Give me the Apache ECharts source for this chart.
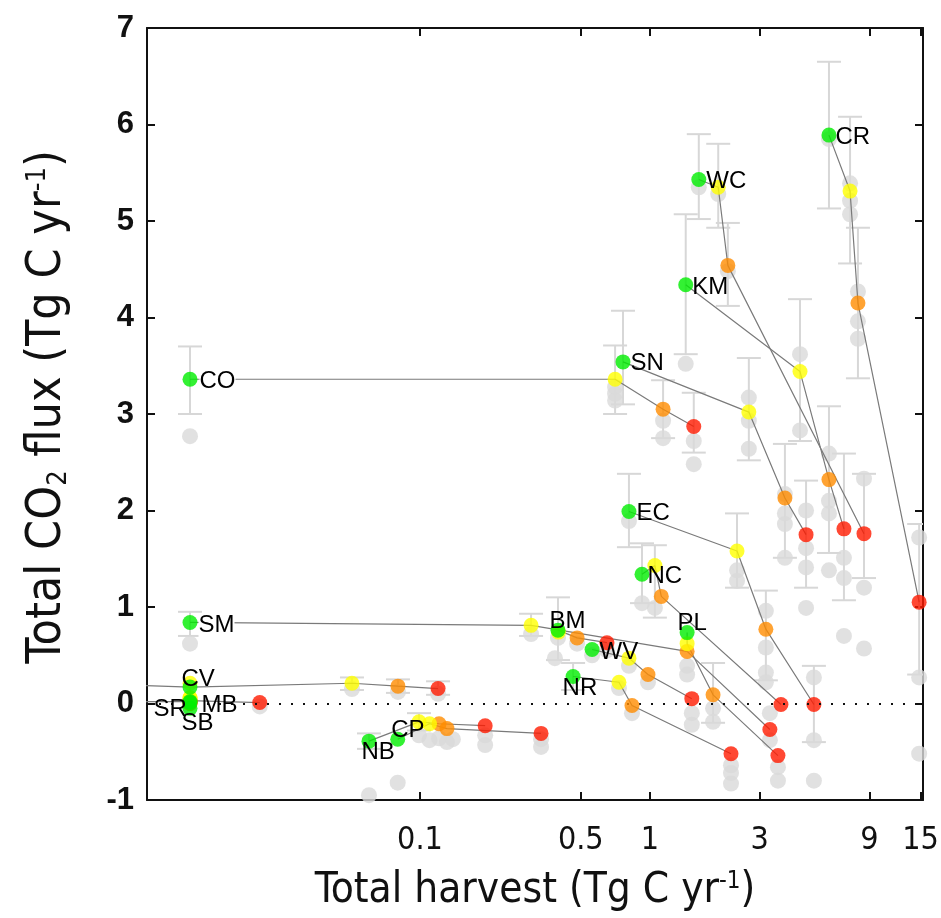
<!DOCTYPE html>
<html><head><meta charset="utf-8">
<script src="https://cdn.jsdelivr.net/npm/echarts@6/dist/echarts.min.js"></script>
<style>html,body{margin:0;padding:0;background:#fff}#c{width:941px;height:918px}</style>
</head><body><div id="c"></div>
<script>
// ---- data ----
const sites   = ['CR','WC','KM','SN','CO','EC','NC','PL','BM','WV','NR','SM','CV','SR','MB','SB','CP','NB'];
// baseline (green)
const greenH  = [6.0, 1.63, 1.43, 0.763, 0.01, 0.81, 0.923, 1.45, 0.398, 0.56, 0.463, 0.01, 0.01, 0.01, 0.01, 0.01, 0.080, 0.060];
const greenF  = [5.89, 5.43, 4.34, 3.54, 3.36, 1.99, 1.34, 0.735, 0.76, 0.56, 0.28, 0.84, 0.17, 0.02, 0.01, -0.05, -0.37, -0.39];
// yellow scenario
const yellowH = [7.41, 1.98, 4.49, 2.69, 0.705, 2.39, 1.05, 1.45, 0.40, 0.81, 0.733, 0.304, 0.0506, 0.01, 0.01, 0.01, 0.110, 0.099];
const yellowF = [5.31, 5.35, 3.44, 3.02, 3.36, 1.58, 1.43, 0.62, 0.74, 0.47, 0.22, 0.81, 0.21, 0.06, 0.06, 0.21, -0.21, -0.19];
// orange scenario
const orangeH = [8.02, 2.18, 6.0, 3.86, 1.14, 3.19, 1.12, 1.88, 0.482, 0.98, 0.835, 1.45, 0.0802, 0.01, 0.01, 0.01, 0.131, 0.121];
const orangeF = [4.15, 4.54, 2.32, 2.13, 3.05, 0.77, 1.11, 0.09, 0.68, 0.30, -0.02, 0.54, 0.18, 0.02, 0.03, 0.0, -0.26, -0.21];
// red scenario
const redH    = [14.8, 8.52, 6.97, 4.77, 1.55, 5.16, 3.71, 3.60, 0.65, 1.52, 2.25, 3.32, 0.1198, 0.01, 0.0201, 0.01, 0.336, 0.192];
const redF    = [1.05, 1.76, 1.81, 1.75, 2.87, -0.01, -0.01, -0.54, 0.63, 0.05, -0.52, -0.27, 0.155, 0.02, 0.01, 0.0, -0.31, -0.23];
// lines that start off the left of the scale
const leadSites = ['CV','SR'];
const leadH     = [0.003, 0.003];
const leadF     = [0.21, 0.02];
// grey alternative estimates
const greyH = [0.01,0.01, 0.0506,0.0802,0.1198, 0.0201,
  0.099,0.110,0.121,0.131,0.139,0.192,0.192,0.336,0.336,0.060,0.080,
  0.304, 0.386,0.398,0.482,0.65, 0.56,0.81,0.98,1.52,1.52, 0.733,0.835,2.25,2.25,2.25,
  1.45,1.45,1.88,1.88, 3.32,3.32,3.60,3.60,
  0.81,2.39,2.39,3.19,3.19,3.19,3.19,5.16,5.16,5.16, 0.923,1.05,
  2.69,2.69,2.69,3.86,3.86,3.86,3.86,4.77,4.77,4.77,4.77,
  0.705,0.705,0.705,1.14,1.14,1.55,1.55,
  1.43,4.49,4.49,6.0,6.0,6.0,6.0,6.97,6.97,6.97,
  1.63,1.98,2.18,8.52,8.52,8.52,
  6.0,7.41,7.41,7.41,8.02,8.02,8.02,14.8,14.8,14.8];
const greyF = [2.77,0.62, 0.15,0.12,0.10, -0.03,
  -0.33,-0.38,-0.36,-0.40,-0.37,-0.33,-0.43,-0.37,-0.45,-0.95,-0.82,
  0.72, 0.47,0.68,0.62,0.55, 0.50,0.39,0.22,-0.10,-0.22, 0.16,-0.10,-0.64,-0.72,-0.83,
  0.39,0.30,-0.05,-0.19, -0.10,-0.38,-0.66,-0.80,
  1.89,1.38,1.27,0.96,0.58,0.32,0.22,0.27,-0.38,-0.80, 1.04,0.99,
  3.17,2.93,2.64,2.17,1.97,1.86,1.51,2.00,1.61,1.41,0.99,
  3.28,3.21,3.14,2.93,2.75,2.72,2.48,
  3.52,3.62,2.83,2.59,2.10,1.97,1.38,1.51,1.30,0.70,
  5.35,5.28,4.48,2.33,1.20,0.57,
  5.85,5.39,5.21,5.07,4.27,3.96,3.78,1.72,0.27,-0.52];
// error bars: harvest, low, high
const errH  = [0.01,0.01,0.0506,0.0802,0.1198,0.060,0.099,0.304,0.398,0.463,0.923,1.05,0.81,2.39,3.19,5.16,1.88,
  0.763,0.705,1.14,1.55,2.69,3.86,4.77,1.43,4.49,6.0,6.97,1.63,1.98,2.18,8.52,6.0,7.41,8.02,14.8];
const errLo = [3.00,0.70,0.14,0.11,0.09,-0.47,-0.28,0.70,0.45,0.14,1.04,0.89,1.62,1.20,0.24,-0.40,-0.20,
  3.10,3.00,2.75,2.60,2.52,1.51,1.20,3.62,2.72,1.56,1.07,5.02,4.93,4.12,1.30,5.13,4.56,3.37,0.30];
const errHi = [3.70,0.95,0.27,0.25,0.23,-0.31,-0.10,0.93,1.10,0.42,1.66,1.64,2.38,1.97,1.17,0.39,0.42,
  4.07,3.71,3.35,3.22,3.58,2.69,2.31,5.07,4.19,3.08,2.59,5.90,5.80,4.98,2.38,6.65,6.08,4.93,1.86];
// axis ticks
const xTickValues = [0.1, 0.5, 1, 3, 9, 15];
const xTickLabels = ['0.1', '0.5', '1', '3', '9', '15'];
const yTickLabels = ['-1','0','1','2','3','4','5','6','7'];

// ---- styles (kept apart from data) ----
const labelOffsets = {CO:[10,3],CR:[7,3],WC:[8,2],KM:[7,3],SN:[8,2],EC:[8,2],NC:[6,3],PL:[-9,-9],BM:[-8,-8],
  WV:[8,3],NR:[-10,12],SM:[9,3],CV:[-8,-7],SR:[-36,8],MB:[12,3],SB:[-8,16],CP:[-6,-8],NB:[-7,12]};
const whiteBg = {CO:true, SM:true};

const L = v => Math.log10(v);
const xMin = -2.187, xMax = 1.187;
const xTicks = xTickValues.map(L);
const FONT = 'Liberation Sans, Arial, sans-serif';
const NARROW = '"Liberation Sans Narrow", "DejaVu Sans Condensed", "Liberation Sans", sans-serif';

const lineSeries = sites.map((s, i) => {
  const pts = [];
  const li = leadSites.indexOf(s);
  if (li >= 0) pts.push([L(leadH[li]), leadF[li]]);
  pts.push([L(greenH[i]), greenF[i]], [L(yellowH[i]), yellowF[i]], [L(orangeH[i]), orangeF[i]], [L(redH[i]), redF[i]]);
  return {type:'line', data:pts, symbol:'none', silent:true, clip:true, z:3,
    lineStyle:{color:'#7a7a7a', width:1.2}};
});

function pts(H, F){ return H.map((h, i) => [L(h), F[i]]); }

const option = {
  animation:false,
  backgroundColor:'#fff',
  grid:{left:147, right:18, top:28, bottom:118, containLabel:false, outerBoundsMode:'none'},
  xAxis:[{
    type:'value', position:'bottom', min:xMin, max:xMax,
    axisLine:{show:true, onZero:false, lineStyle:{color:'#111', width:2}},
    axisTick:{show:true, inside:true, length:8, lineStyle:{color:'#111', width:2}, customValues:xTicks},
    axisLabel:{show:true, customValues:xTicks, margin:25, color:'#111', fontSize:32, fontFamily:NARROW,
      formatter:v => { let k=0, d=1e9; xTicks.forEach((t,j)=>{ if(Math.abs(t-v)<d){d=Math.abs(t-v);k=j;} }); return xTickLabels[k]; }},
    splitLine:{show:false},
    name:'Total harvest (Tg C yr{sup|-1})', nameLocation:'middle', nameGap:70,
    nameTextStyle:{fontSize:42, fontFamily:NARROW, color:'#111',
      rich:{sup:{fontSize:24, fontFamily:NARROW, color:'#111', verticalAlign:'top'}}}
  },{
    type:'value', position:'top', min:xMin, max:xMax,
    axisLine:{show:true, onZero:false, lineStyle:{color:'#111', width:2}},
    axisTick:{show:true, inside:true, length:8, lineStyle:{color:'#111', width:2}, customValues:xTicks},
    axisLabel:{show:false}, splitLine:{show:false}
  }],
  yAxis:[{
    type:'value', position:'left', min:-1, max:7, interval:1,
    axisLine:{show:true, onZero:false, lineStyle:{color:'#111', width:2}},
    axisTick:{show:true, inside:true, length:8, lineStyle:{color:'#111', width:2}},
    axisLabel:{show:true, margin:13, color:'#111', fontSize:31, fontWeight:'bold', fontFamily:FONT,
      formatter:v => yTickLabels[Math.round(v)+1]},
    splitLine:{show:false},
    name:'Total CO{sub|2} flux (Tg C yr{sup|-1})', nameLocation:'middle', nameGap:75, nameRotate:90,
    nameTextStyle:{fontSize:48, fontFamily:NARROW, color:'#111', padding:[0,0,0,14],
      rich:{sup:{fontSize:27, fontFamily:NARROW, color:'#111', verticalAlign:'top'},
            sub:{fontSize:27, fontFamily:NARROW, color:'#111', verticalAlign:'bottom'}}}
  },{
    type:'value', position:'right', min:-1, max:7, interval:1,
    axisLine:{show:true, onZero:false, lineStyle:{color:'#111', width:2}},
    axisTick:{show:true, inside:true, length:8, lineStyle:{color:'#111', width:2}},
    axisLabel:{show:false}, splitLine:{show:false}
  }],
  series:[
    {type:'custom', silent:true, z:1, clip:true,
      data: errH.map((h,i)=>[L(h), errLo[i], errHi[i]]),
      encode:{x:0, y:[1,2]},
      renderItem:(params, api) => {
        const x = api.value(0), lo = api.value(1), hi = api.value(2);
        const a = api.coord([x, lo]), b = api.coord([x, hi]);
        const w = 12, st = {stroke:'#d7d7d7', lineWidth:2};
        return {type:'group', children:[
          {type:'line', shape:{x1:a[0], y1:a[1], x2:b[0], y2:b[1]}, style:st},
          {type:'line', shape:{x1:a[0]-w, y1:a[1], x2:a[0]+w, y2:a[1]}, style:st},
          {type:'line', shape:{x1:b[0]-w, y1:b[1], x2:b[0]+w, y2:b[1]}, style:st}
        ]};
      }},
    {type:'scatter', silent:true, z:2, data:pts(greyH, greyF), symbol:'circle', symbolSize:16,
      itemStyle:{color:'#d9d9d9'},
      markLine:{silent:true, symbol:['none','none'], label:{show:false},
        lineStyle:{color:'#111', type:[2,10], width:2}, data:[{yAxis:0}]}},
    ...lineSeries,
    {type:'scatter', silent:true, z:4, data:pts(redH, redF), symbol:'circle', symbolSize:15, itemStyle:{color:'#ff1a00'}},
    {type:'scatter', silent:true, z:5, data:pts(orangeH, orangeF), symbol:'circle', symbolSize:15, itemStyle:{color:'#ff8c00'}},
    {type:'scatter', silent:true, z:6, data:pts(yellowH, yellowF), symbol:'circle', symbolSize:15, itemStyle:{color:'#ffff00'}},
    {type:'scatter', silent:true, z:7, data:pts(greenH, greenF), symbol:'circle', symbolSize:15, itemStyle:{color:'#00ee00'}},
    {type:'scatter', silent:true, z:8, symbolSize:1, itemStyle:{color:'rgba(0,0,0,0)'},
      data: sites.map((s,i)=>({name:s, value:[L(greenH[i]), greenF[i]],
        label:{show:true, position:labelOffsets[s], align:'left', verticalAlign:'middle', opacity:1,
          formatter:s, fontSize:24, fontFamily:FONT, color:'#000', textBorderWidth:0,
          backgroundColor: whiteBg[s] ? '#fff' : 'transparent'}}))}
  ]
};
const chart = echarts.init(document.getElementById('c'));
chart.setOption(option);
</script></body></html>
